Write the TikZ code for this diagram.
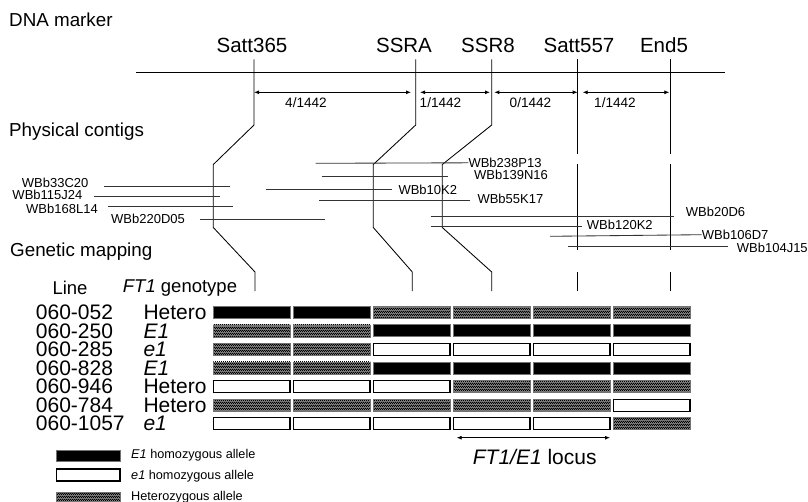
\documentclass[tikz,border=0pt]{standalone}
\usepackage{fontspec}
\setmainfont{Liberation Sans}
\usetikzlibrary{positioning, calc, patterns, arrows.meta}

\pgfdeclarepatternformonly{finecheck}{\pgfqpoint{0pt}{0pt}}{\pgfqpoint{2.4pt}{2.4pt}}{\pgfqpoint{2.4pt}{2.4pt}}{%
  \pgfpathrectangle{\pgfpointorigin}{\pgfqpoint{1.2pt}{1.2pt}}%
  \pgfpathrectangle{\pgfqpoint{1.2pt}{1.2pt}}{\pgfqpoint{1.2pt}{1.2pt}}%
  \pgfusepath{fill}}

\tikzset{
  sectitle/.style={anchor=west, inner sep=0, font=\fontsize{18.8}{20}\selectfont},
  mkname/.style={inner sep=0, font=\fontsize{20.5}{22}\selectfont},
  ctglabel/.style={anchor=west, inner sep=0, font=\fontsize{13}{14}\selectfont},
  reclabel/.style={inner sep=0, font=\fontsize{13.6}{15}\selectfont},
  rowlabel/.style={anchor=west, inner sep=0, font=\fontsize{21}{22}\selectfont},
  hdrlabel/.style={inner sep=0, font=\fontsize{18.5}{20}\selectfont},
  leglabel/.style={anchor=west, inner sep=0, font=\fontsize{12.7}{14}\selectfont},
  chrline/.style={line width=0.85pt},
  ctgline/.style={line width=0.85pt, black!80},
  dimarrow/.style={line width=0.85pt, {Latex[length=5pt,width=4pt]}-{Latex[length=5pt,width=4pt]}},
  gB/.style={fill=black, draw=black!55, line width=0.7pt},
  gW/.style={fill=white, draw=black, line width=1.1pt},
  gH/.style={preaction={fill=black!50}, pattern=finecheck, pattern color=black, draw=black!55, line width=0.5pt},
}

\begin{document}
\begin{tikzpicture}[x=1pt,y=-1pt]
    \useasboundingbox (0,0) rectangle (808,501);

    % section titles
    \node[sectitle] (tdna) at (9,20) {DNA marker};
    \node[sectitle] (tphys) at (9,132) {Physical contigs};
    \node[sectitle] (tgen) at (10,252) {Genetic mapping};

    % markers
    \node[mkname] (satt365) at (252,45) {Satt365};
    \node[mkname] (ssra) at (404,45) {SSRA};
    \node[mkname] (ssr8) at (488,45) {SSR8};
    \node[mkname] (satt557) at (579,45) {Satt557};
    \node[mkname] (end5) at (664,45) {End5};
    \draw[chrline] (136,72.3) -- (725,72.3);

    \foreach \x/\xa/\xb in {254/213.3/255, 415.7/373.3/412.3, 491.7/442.3/491.7}
        \draw[chrline] (\x,59.3) -- (\x,125) -- (\xa,164.5) -- (\xa,227.5) -- (\xb,272) -- (\xb,291);
    \foreach \x in {577.7, 670}{
        \draw[chrline] (\x,59.3) -- (\x,154);
        \draw[chrline] (\x,164) -- (\x,250);
        \draw[chrline] (\x,272) -- (\x,291);
    }

    % recombinants between markers
    \coordinate (m1) at (254,92.3);
    \coordinate (m2) at (415.7,92.3);
    \coordinate (m3) at (491.7,92.3);
    \coordinate (m4) at (577.7,92.3);
    \coordinate (m5) at (670,92.3);
    \draw[dimarrow] (m1) -- ([xshift=-4.7pt]m2);
    \draw[dimarrow] ([xshift=4.3pt]m2) -- ([xshift=-1.7pt]m3);
    \draw[dimarrow] ([xshift=2.6pt]m3) -- (m4);
    \draw[dimarrow] ([xshift=5pt]m4) -- ([xshift=-0.7pt]m5);
    \node[reclabel] (r1) at (306,103) {4/1442};
    \node[reclabel] (r2) at (440.5,103) {1/1442};
    \node[reclabel] (r3) at (530.5,102.7) {0/1442};
    \node[reclabel] (r4) at (615,103) {1/1442};

    % contigs, left group
    \node[ctglabel] (c1) at (21.7,182.8) {WBb33C20};
    \node[ctglabel] (c2) at (12.3,195) {WBb115J24};
    \node[ctglabel] (c3) at (26,209) {WBb168L14};
    \node[ctglabel] (c4) at (111,219) {WBb220D05};
    \draw[ctgline] (104.3,186) -- (230,186);
    \draw[ctgline] (94.3,196.7) -- (220,196.7);
    \draw[ctgline] (107.7,206.3) -- (232.7,206.3);
    \draw[ctgline] (200,219.3) -- (325,219.3);

    % contigs, middle group
    \node[ctglabel] (c5) at (468.3,162.8) {WBb238P13};
    \node[ctglabel] (c6) at (474,175.3) {WBb139N16};
    \node[ctglabel] (c7) at (398.3,189.5) {WBb10K2};
    \node[ctglabel] (c8) at (477.3,198.8) {WBb55K17};
    \draw[ctgline] (315.7,163.3) -- (c5.west);
    \draw[ctgline] (321.7,176.7) -- (447.7,176.7);
    \draw[ctgline] (265.7,189.3) -- (391.7,189.3);
    \draw[ctgline] (319,200) -- (470,200);

    % contigs, right group
    \node[ctglabel] (c9) at (685.7,212.2) {WBb20D6};
    \node[ctglabel] (c10) at (586.7,224.7) {WBb120K2};
    \node[ctglabel] (c11) at (701.7,234.7) {WBb106D7};
    \node[ctglabel] (c12) at (736.7,247.8) {WBb104J15};
    \draw[ctgline] (430.7,216.7) -- (674,216.7);
    \draw[ctgline] (430.7,226) -- (581.7,226);
    \draw[ctgline] (550,236.3) -- (c11.west);
    \draw[ctgline] (568.3,246) -- (728.3,246);

    % genotype table
    \node[hdrlabel] (hline) at (70,288) {Line};
    \node[hdrlabel, anchor=west] (hgt) at (122.7,288) {{\itshape FT1} genotype};
    \foreach \ln/\gt/\pa/\pb/\pc/\pd/\pe/\pf [count=\r] in {
        060-052/Hetero/B/B/H/H/H/H,
        060-250/{\itshape E1}/H/H/B/B/B/B,
        060-285/{\itshape e1}/H/H/W/W/W/W,
        060-828/{\itshape E1}/H/H/B/B/B/B,
        060-946/Hetero/W/W/W/H/H/H,
        060-784/Hetero/H/H/H/H/H/W,
        060-1057/{\itshape e1}/W/W/W/W/W/H}{
        \pgfmathsetmacro{\yy}{312.2+18.58*(\r-1)}
        \node[rowlabel] (ln\r) at (35.7,\yy) {\ln};
        \node[rowlabel] (gt\r) at (143.3,\yy) {\gt};
        \foreach \t [count=\i] in {\pa,\pb,\pc,\pd,\pe,\pf}
            \draw[g\t] ({133.3+80*\i},\yy-6) rectangle +(76.7,12);
    }

    % FT1/E1 locus
    \coordinate (la) at (456.7,437.7);
    \coordinate (lb) at (610,437.7);
    \draw[dimarrow, line width=0.8pt] (la) -- (lb);
    \node[hdrlabel, font=\fontsize{21}{22}\selectfont] (locus) at (534.7,457.3) {{\itshape FT1/E1} locus};

    % legend
    \draw[gB] (56.7,450.7) rectangle (120,461);
    \draw[gW, line width=1.5pt] (56.7,469) rectangle (120,481);
    \draw[gH] (56.7,492.7) rectangle (120,503);
    \node[leglabel] (lg1) at (131,455.5) {{\itshape E1} homozygous allele};
    \node[leglabel] (lg2) at (131,476) {{\itshape e1} homozygous allele};
    \node[leglabel] (lg3) at (131,497) {Heterozygous allele};
\end{tikzpicture}
\end{document}
